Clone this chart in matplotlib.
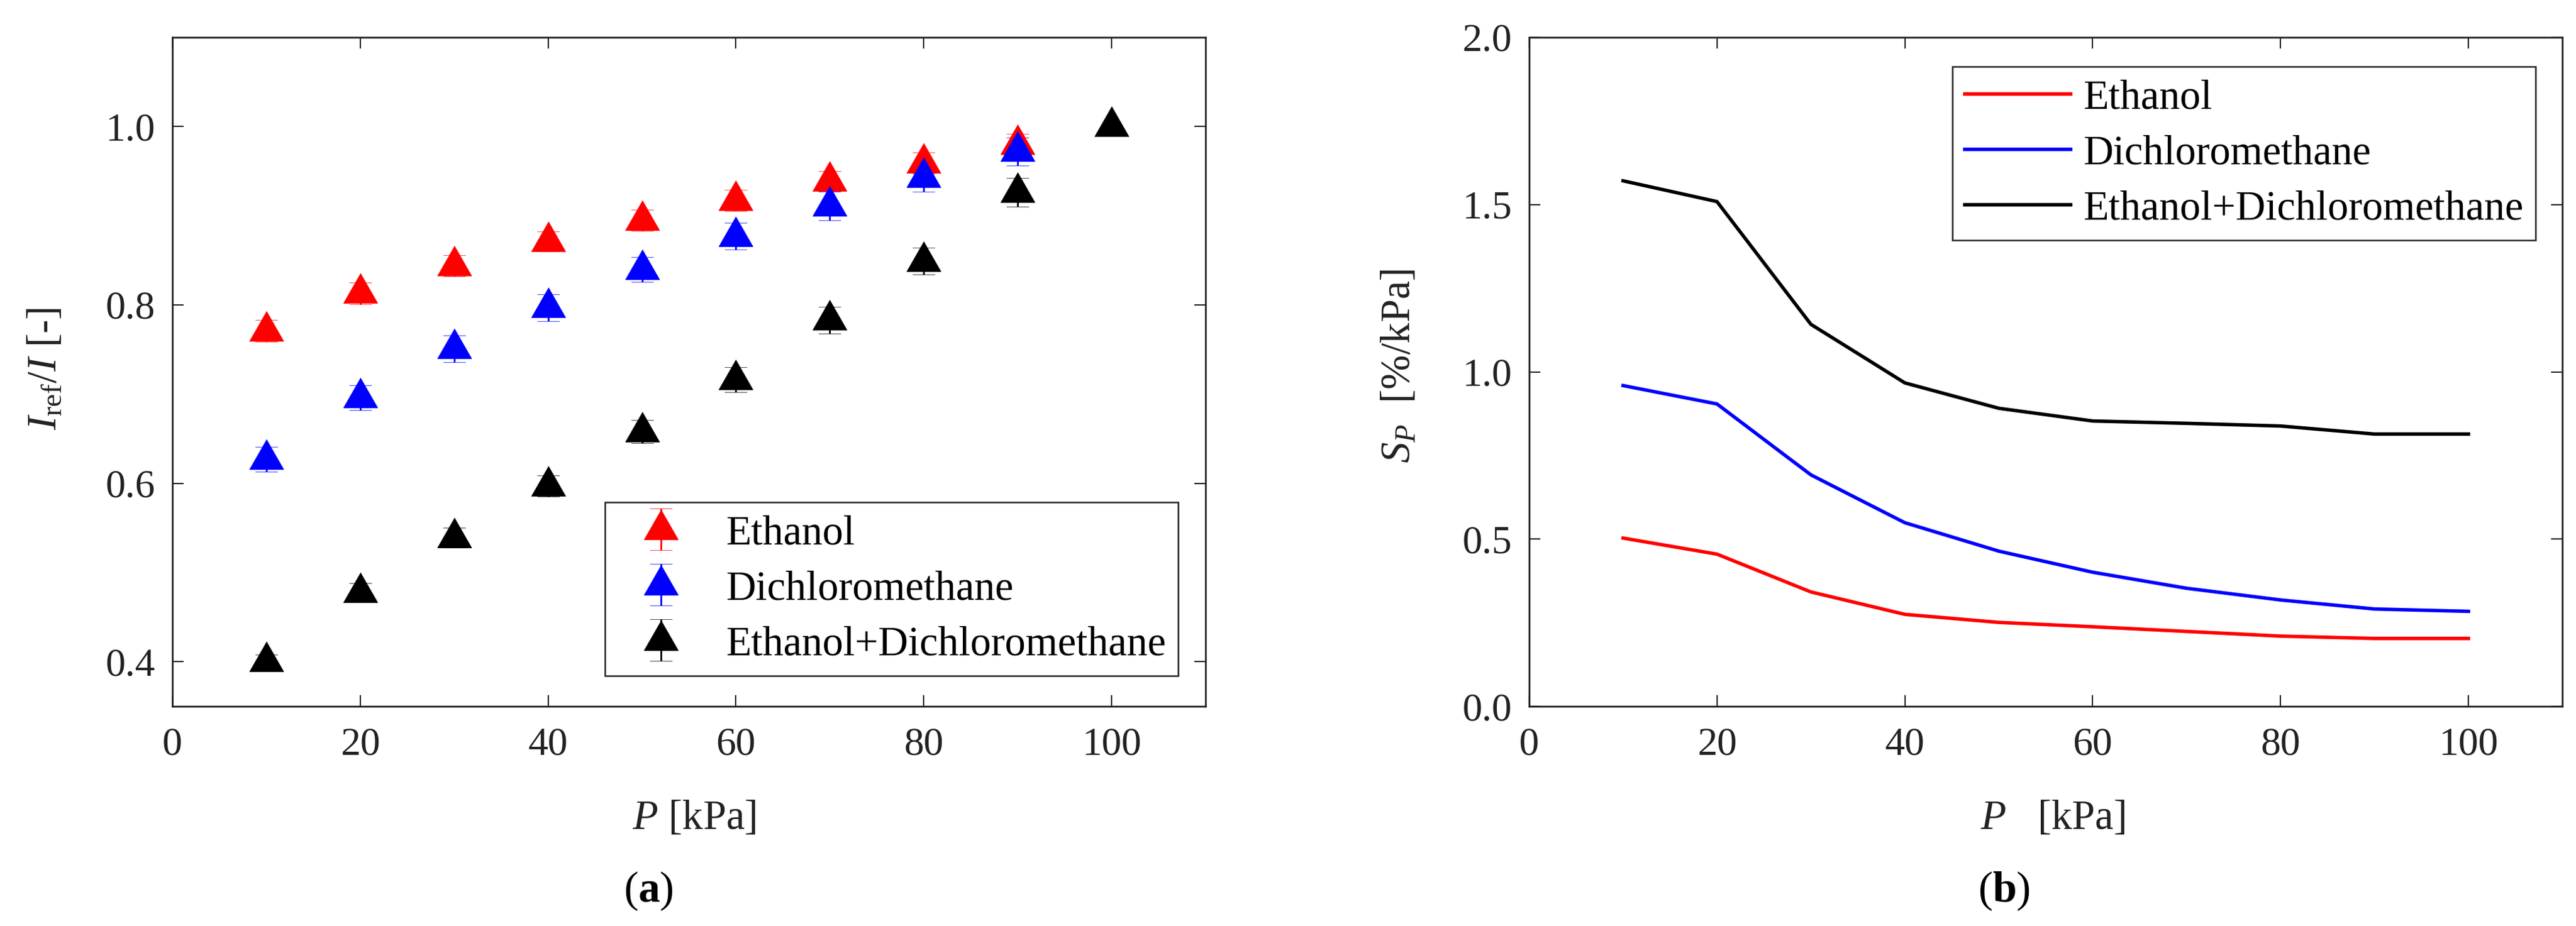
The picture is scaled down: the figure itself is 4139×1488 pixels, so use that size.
import matplotlib
matplotlib.use("Agg")
import matplotlib.pyplot as plt
from matplotlib import rcParams
from matplotlib.ticker import MultipleLocator, FormatStrFormatter

rcParams["font.family"] = "Liberation Serif"
rcParams["mathtext.fontset"] = "custom"
rcParams["mathtext.rm"] = "Liberation Serif"
rcParams["mathtext.it"] = "Liberation Serif:italic"
rcParams["mathtext.bf"] = "Liberation Serif:bold"

# panel (a): normalised intensity vs pressure
p_a = [10, 20, 30, 40, 50, 60, 70, 80, 90]
p_a_mix = [10, 20, 30, 40, 50, 60, 70, 80, 90, 100]
ratio_ethanol = [0.771, 0.813, 0.844, 0.871, 0.895, 0.917, 0.939, 0.959, 0.980]
err_ethanol = [0.012, 0.012, 0.012, 0.011, 0.012, 0.012, 0.011, 0.012, 0.012]
ratio_dcm = [0.627, 0.696, 0.751, 0.797, 0.840, 0.877, 0.911, 0.943, 0.972]
err_dcm = [0.014, 0.014, 0.015, 0.015, 0.014, 0.015, 0.016, 0.016, 0.016]
ratio_mix = [0.400, 0.478, 0.539, 0.597, 0.658, 0.716, 0.783, 0.849, 0.926, 1.000]
err_mix = [0.008, 0.010, 0.011, 0.012, 0.013, 0.014, 0.015, 0.015, 0.016, 0.0]

# panel (b): sensitivity vs pressure
p_b = [10, 20, 30, 40, 50, 60, 70, 80, 90, 100]
sens_ethanol = [0.503, 0.455, 0.342, 0.275, 0.251, 0.238, 0.224, 0.210, 0.203, 0.203]
sens_dcm = [0.959, 0.904, 0.692, 0.549, 0.464, 0.401, 0.353, 0.318, 0.291, 0.284]
sens_mix = [1.571, 1.509, 1.142, 0.967, 0.891, 0.853, 0.846, 0.838, 0.814, 0.814]

names = ["Ethanol", "Dichloromethane", "Ethanol+Dichloromethane"]
colors = ["#ff0000", "#0000ff", "#000000"]
text_color = "#222222"

# triangle with its centroid on the data point (MATLAB style)
tri = [(0, 32), (-27.5, -16), (27.5, -16), (0, 32)]

fig = plt.figure(figsize=(41.39, 14.88), dpi=100)
ax1 = fig.add_axes([0.0669, 0.2372, 0.4011, 0.7225])
ax2 = fig.add_axes([0.5936, 0.2372, 0.4011, 0.7225])

series_a = [
    (p_a, ratio_ethanol, err_ethanol),
    (p_a, ratio_dcm, err_dcm),
    (p_a_mix, ratio_mix, err_mix),
]
for (x, y, e), c, n in zip(series_a, colors, names):
    ax1.errorbar(
        x, y, yerr=e, marker=tri, markersize=46, color=c, mec=c, mew=0.5,
        ls="none", capsize=13, elinewidth=2, capthick=2, label=n,
    )

for y, c, n in zip([sens_ethanol, sens_dcm, sens_mix], colors, names):
    ax2.plot(p_b, y, color=c, lw=4, label=n)

ax1.set_xlim(0, 110)
ax1.set_ylim(0.35, 1.1)
ax1.set_yticks([0.4, 0.6, 0.8, 1.0])
ax2.set_xlim(0, 110)
ax2.set_ylim(0, 2.0)
ax2.yaxis.set_major_locator(MultipleLocator(0.5))

for ax in (ax1, ax2):
    ax.set_xticks([0, 20, 40, 60, 80, 100])
    ax.yaxis.set_major_formatter(FormatStrFormatter("%.1f"))
    ax.tick_params(direction="in", top=True, right=True, length=13,
                   width=1.5, labelsize=46, colors=text_color)
    ax.tick_params(axis="x", pad=24)
    ax.tick_params(axis="y", pad=20)
    for s in ax.spines.values():
        s.set_linewidth(2)
        s.set_color(text_color)

ax1.set_xlabel("$P$ [kPa]", fontsize=48, color=text_color, va="baseline")
ax1.xaxis.set_label_coords(0.505, -0.1833)
ax1.set_ylabel(r"$I_{\mathrm{ref}}/I$ [-]", fontsize=48, color=text_color, va="center")
ax1.yaxis.set_label_coords(-0.123, 0.505)
ax2.set_xlabel("$P$   [kPa]", fontsize=48, color=text_color, va="baseline")
ax2.xaxis.set_label_coords(0.507, -0.1833)
ax2.set_ylabel("$S_P$  [%/kPa]", fontsize=48, color=text_color, va="center")
ax2.yaxis.set_label_coords(-0.125, 0.509)

leg_style = dict(fontsize=48, fancybox=False, framealpha=1, edgecolor=text_color,
                 borderaxespad=0)
leg1 = ax1.legend(loc="lower right", bbox_to_anchor=(0.9735, 0.0456),
                  handlelength=2.1, handletextpad=0.5, borderpad=0.3,
                  labelspacing=0.42, **leg_style)
leg2 = ax2.legend(loc="upper right", bbox_to_anchor=(0.974, 0.956),
                  handlelength=2.55, handletextpad=0.3, borderpad=0.3,
                  labelspacing=0.42, **leg_style)
for leg in (leg1, leg2):
    leg.get_frame().set_linewidth(1.8)

fig.text(0.2518, 0.0376, r"($\mathbf{a}$)", fontsize=50, ha="center", va="center")
fig.text(0.778, 0.0376, r"($\mathbf{b}$)", fontsize=50, ha="center", va="center")

fig.savefig("out.png", dpi=100)
